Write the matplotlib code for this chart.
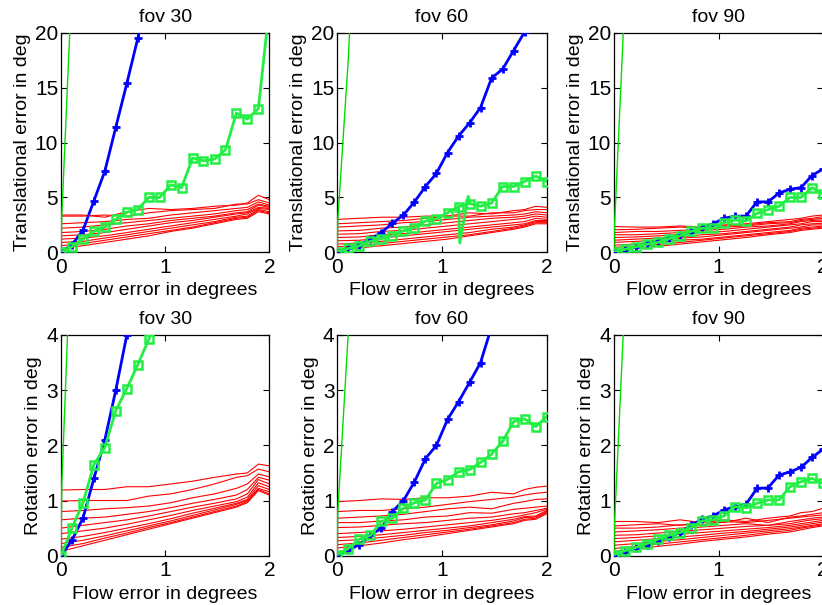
import matplotlib
matplotlib.use('Agg')
import matplotlib.pyplot as plt

plt.rcParams['font.family'] = ['Liberation Sans', 'DejaVu Sans']
plt.rcParams['font.size'] = 14

##############################################################################
# data

# flow error grid (degrees), thick curves
flow_x = [0.0, 0.105, 0.211, 0.316, 0.421, 0.526, 0.632, 0.737, 0.842, 0.947,
          1.053, 1.158, 1.263, 1.368, 1.474, 1.579, 1.684, 1.789, 1.895, 2.0]
# coarser grid for the thin red curves
red_x = [0.0, 0.211, 0.421, 0.632, 0.842, 1.053, 1.263, 1.474, 1.684, 1.789, 1.895, 2.0]

titles = ['fov 30', 'fov 60', 'fov 90']
ylabel_trans = 'Translational error in deg'
ylabel_rot = 'Rotation error in deg'
xlabel = 'Flow error in degrees'

# --- translational error ---
trans30_blue = [0, 0.7, 2.0, 4.7, 7.4, 11.4, 15.4, 19.5, 24.0]
trans30_green = [0, 0.5, 1.2, 1.9, 2.3, 3.0, 3.65, 3.9, 5.0, 5.0, 6.15, 5.9,
                 8.6, 8.35, 8.5, 9.35, 12.7, 12.15, 13.1, 22.3]
trans30_thin_x = [0, 0.008, 0.105]
trans30_thin_y = [0, 3.4, 24.6]
trans30_red = [
    [3.4, 3.4, 3.2, 3.7, 4.0, 3.9, 4.0, 4.2, 4.3, 4.5, 5.2, 4.8],
    [3.3, 3.3, 3.4, 3.3, 3.6, 3.8, 3.9, 4.0, 4.4, 4.4, 4.8, 4.5],
    [2.6, 2.7, 2.8, 3.0, 3.1, 3.4, 3.6, 3.8, 4.0, 4.1, 4.6, 4.3],
    [2.2, 2.3, 2.5, 2.7, 2.9, 3.1, 3.3, 3.5, 3.8, 3.9, 4.4, 4.2],
    [1.8, 1.9, 2.1, 2.4, 2.6, 2.9, 3.1, 3.3, 3.6, 3.7, 4.3, 4.1],
    [1.5, 1.6, 1.8, 2.1, 2.4, 2.7, 2.9, 3.2, 3.5, 3.6, 4.1, 4.0],
    [1.2, 1.3, 1.5, 1.8, 2.1, 2.4, 2.7, 3.0, 3.3, 3.5, 4.0, 3.9],
    [0.9, 1.0, 1.3, 1.6, 1.9, 2.2, 2.5, 2.8, 3.2, 3.3, 3.9, 3.7],
    [0.6, 0.8, 1.1, 1.4, 1.7, 2.0, 2.3, 2.7, 3.1, 3.2, 3.8, 3.6],
    [0.35, 0.6, 0.9, 1.2, 1.5, 1.9, 2.2, 2.6, 3.0, 3.1, 3.7, 3.5],
]

trans60_blue = [0, 0.35, 0.7, 1.2, 1.8, 2.65, 3.4, 4.6, 6.0, 7.2, 9.1, 10.6,
                11.8, 13.2, 15.9, 16.7, 18.4, 20.1, 22.5]
trans60_green = [0.05, 0.35, 0.6, 1.0, 1.25, 1.5, 1.95, 2.25, 2.85, 3.05, 3.6,
                 4.15, 4.45, 4.2, 4.5, 6.0, 6.0, 6.45, 6.95, 6.45]
trans60_spike_x = [1.158, 1.17, 1.25, 1.263]
trans60_spike_y = [4.15, 0.85, 5.1, 4.45]
trans60_thin_x = [0, 0.005, 0.105, 0.211]
trans60_thin_y = [0, 3.0, 17.6, 40.0]
trans60_red = [
    [3.0, 3.1, 3.2, 3.2, 3.3, 3.3, 3.6, 3.5, 3.8, 3.9, 4.2, 4.1],
    [2.6, 2.7, 2.8, 2.9, 3.1, 3.3, 3.3, 3.6, 3.6, 3.8, 3.9, 3.9],
    [2.3, 2.4, 2.5, 2.7, 2.8, 3.0, 3.2, 3.3, 3.4, 3.5, 3.7, 3.6],
    [1.95, 2.0, 2.2, 2.3, 2.5, 2.7, 2.9, 3.1, 3.2, 3.3, 3.5, 3.4],
    [1.65, 1.7, 1.9, 2.0, 2.2, 2.4, 2.6, 2.8, 3.0, 3.1, 3.3, 3.2],
    [1.35, 1.4, 1.6, 1.7, 1.9, 2.1, 2.3, 2.5, 2.7, 2.8, 3.1, 3.0],
    [1.05, 1.1, 1.3, 1.5, 1.7, 1.9, 2.1, 2.3, 2.5, 2.6, 2.9, 2.9],
    [0.75, 0.85, 1.0, 1.2, 1.4, 1.6, 1.8, 2.1, 2.3, 2.5, 2.8, 2.8],
    [0.5, 0.6, 0.8, 1.0, 1.2, 1.4, 1.6, 1.9, 2.2, 2.4, 2.7, 2.7],
    [0.25, 0.4, 0.6, 0.8, 1.0, 1.2, 1.5, 1.8, 2.1, 2.3, 2.6, 2.6],
]

trans90_blue = [0, 0.25, 0.5, 0.8, 1.0, 1.3, 1.55, 1.85, 2.25, 2.6, 3.1, 3.3,
                3.3, 4.6, 4.6, 5.4, 5.75, 5.9, 7.0, 7.6]
trans90_green = [0.05, 0.27, 0.5, 0.73, 0.9, 1.25, 1.5, 1.9, 2.2, 2.2, 2.7,
                 2.95, 2.85, 3.55, 3.9, 4.2, 5.0, 5.0, 5.9, 5.3]
trans90_thin_x = [0, 0.003, 0.105]
trans90_thin_y = [0, 2.0, 23.4]
trans90_red = [
    [2.35, 2.3, 2.3, 2.4, 2.3, 2.5, 2.6, 2.8, 3.0, 3.1, 3.3, 3.4],
    [2.05, 2.1, 2.2, 2.3, 2.2, 2.4, 2.5, 2.7, 2.8, 3.0, 3.1, 3.25],
    [1.8, 1.9, 1.9, 2.0, 2.1, 2.3, 2.4, 2.6, 2.7, 2.9, 3.0, 3.1],
    [1.6, 1.6, 1.7, 1.8, 2.0, 2.1, 2.3, 2.4, 2.6, 2.8, 2.9, 2.95],
    [1.35, 1.4, 1.5, 1.6, 1.8, 1.9, 2.1, 2.3, 2.5, 2.6, 2.8, 2.8],
    [1.1, 1.2, 1.3, 1.4, 1.6, 1.7, 1.9, 2.1, 2.3, 2.5, 2.6, 2.65],
    [0.9, 1.0, 1.1, 1.3, 1.4, 1.6, 1.8, 2.0, 2.2, 2.3, 2.5, 2.5],
    [0.65, 0.75, 0.9, 1.1, 1.2, 1.4, 1.6, 1.8, 2.0, 2.2, 2.3, 2.4],
    [0.45, 0.55, 0.7, 0.9, 1.1, 1.3, 1.5, 1.7, 1.9, 2.1, 2.2, 2.3],
    [0.25, 0.35, 0.55, 0.75, 0.95, 1.15, 1.35, 1.6, 1.8, 2.0, 2.1, 2.2],
]

# --- rotation error ---
rot30_blue = [0, 0.28, 0.68, 1.4, 2.1, 3.0, 4.0, 4.9]
rot30_green = [0, 0.5, 0.96, 1.65, 1.96, 2.63, 3.03, 3.46, 3.92, 4.4]
rot30_thin_x = [0, 0.008, 0.105]
rot30_thin_y = [0, 1.3, 6.1]
rot30_red = [
    [1.19, 1.2, 1.2, 1.25, 1.25, 1.3, 1.35, 1.42, 1.48, 1.5, 1.66, 1.63],
    [0.99, 1.0, 1.0, 1.0, 1.08, 1.12, 1.2, 1.3, 1.42, 1.45, 1.57, 1.52],
    [0.8, 0.82, 0.85, 0.87, 0.9, 0.96, 1.05, 1.12, 1.22, 1.3, 1.48, 1.43],
    [0.65, 0.68, 0.7, 0.75, 0.8, 0.87, 0.95, 1.02, 1.1, 1.2, 1.42, 1.37],
    [0.5, 0.55, 0.6, 0.65, 0.72, 0.8, 0.88, 0.95, 1.03, 1.12, 1.38, 1.3],
    [0.4, 0.45, 0.5, 0.57, 0.65, 0.73, 0.82, 0.9, 0.98, 1.06, 1.32, 1.25],
    [0.3, 0.35, 0.42, 0.5, 0.58, 0.67, 0.77, 0.86, 0.95, 1.02, 1.27, 1.2],
    [0.22, 0.28, 0.36, 0.45, 0.54, 0.63, 0.73, 0.83, 0.93, 1.0, 1.22, 1.16],
    [0.15, 0.22, 0.32, 0.41, 0.51, 0.6, 0.7, 0.8, 0.9, 0.98, 1.2, 1.12],
    [0.08, 0.18, 0.28, 0.38, 0.48, 0.58, 0.68, 0.78, 0.88, 0.96, 1.18, 1.1],
]

rot60_blue = [0, 0.1, 0.2, 0.37, 0.5, 0.8, 1.0, 1.34, 1.76, 2.0, 2.47, 2.79,
              3.14, 3.5, 4.15]
rot60_green = [0.02, 0.13, 0.3, 0.37, 0.62, 0.68, 0.86, 0.96, 1.01, 1.31, 1.38,
               1.52, 1.56, 1.69, 1.84, 2.07, 2.43, 2.48, 2.34, 2.52]
rot60_thin_x = [0, 0.005, 0.105, 0.211]
rot60_thin_y = [0, 0.8, 4.05, 8.0]
rot60_red = [
    [0.98, 1.0, 1.03, 1.02, 1.05, 1.05, 1.08, 1.15, 1.12, 1.2, 1.24, 1.26],
    [0.8, 0.82, 0.82, 0.85, 0.88, 0.93, 0.98, 1.02, 1.06, 1.1, 1.13, 1.15],
    [0.68, 0.7, 0.72, 0.75, 0.8, 0.85, 0.88, 0.85, 0.95, 0.98, 1.02, 1.03],
    [0.6, 0.6, 0.63, 0.65, 0.7, 0.72, 0.78, 0.77, 0.84, 0.86, 0.88, 0.9],
    [0.51, 0.52, 0.55, 0.58, 0.6, 0.64, 0.68, 0.7, 0.76, 0.78, 0.82, 0.86],
    [0.4, 0.42, 0.45, 0.48, 0.52, 0.56, 0.6, 0.64, 0.7, 0.74, 0.78, 0.84],
    [0.33, 0.35, 0.38, 0.42, 0.46, 0.5, 0.54, 0.6, 0.66, 0.71, 0.72, 0.82],
    [0.27, 0.29, 0.33, 0.37, 0.42, 0.46, 0.51, 0.56, 0.63, 0.69, 0.7, 0.8],
    [0.2, 0.23, 0.28, 0.33, 0.38, 0.43, 0.48, 0.54, 0.6, 0.66, 0.68, 0.78],
    [0.14, 0.18, 0.23, 0.29, 0.34, 0.4, 0.46, 0.52, 0.58, 0.64, 0.66, 0.76],
]

rot90_blue = [0, 0.07, 0.14, 0.2, 0.27, 0.33, 0.42, 0.55, 0.66, 0.72, 0.83,
              0.89, 0.93, 1.22, 1.23, 1.46, 1.52, 1.6, 1.78, 1.93]
rot90_green = [0.02, 0.09, 0.15, 0.22, 0.3, 0.37, 0.42, 0.51, 0.63, 0.65, 0.72,
               0.89, 0.87, 0.95, 1.01, 1.01, 1.25, 1.34, 1.4, 1.31]
rot90_thin_x = [0, 0.003, 0.105]
rot90_thin_y = [0, 0.5, 4.7]
rot90_red = [
    [0.62, 0.62, 0.6, 0.65, 0.6, 0.65, 0.62, 0.68, 0.72, 0.78, 0.8, 0.86],
    [0.54, 0.56, 0.58, 0.55, 0.62, 0.6, 0.68, 0.6, 0.7, 0.72, 0.75, 0.78],
    [0.5, 0.5, 0.52, 0.56, 0.56, 0.62, 0.6, 0.64, 0.68, 0.7, 0.72, 0.74],
    [0.43, 0.45, 0.47, 0.5, 0.52, 0.55, 0.58, 0.55, 0.62, 0.65, 0.68, 0.7],
    [0.37, 0.38, 0.41, 0.44, 0.47, 0.5, 0.53, 0.55, 0.58, 0.62, 0.65, 0.67],
    [0.31, 0.33, 0.36, 0.39, 0.42, 0.45, 0.48, 0.51, 0.55, 0.58, 0.61, 0.64],
    [0.25, 0.28, 0.31, 0.34, 0.37, 0.41, 0.44, 0.48, 0.52, 0.55, 0.58, 0.61],
    [0.19, 0.22, 0.26, 0.29, 0.33, 0.37, 0.41, 0.45, 0.49, 0.52, 0.55, 0.58],
    [0.13, 0.17, 0.21, 0.25, 0.29, 0.33, 0.37, 0.42, 0.46, 0.5, 0.53, 0.56],
    [0.08, 0.12, 0.17, 0.21, 0.26, 0.3, 0.34, 0.39, 0.43, 0.47, 0.51, 0.54],
]

##############################################################################
# plotting

BLUE = '#0000ff'
GREEN = '#22ee44'
THIN_GREEN = '#00dd00'
RED = '#ff0000'


def draw_panel(ax, red, thin_x, thin_y, blue, green, title, ylabel, ymax, yticks,
               spike=None):
    for row in red:
        ax.plot(red_x, row, color=RED, lw=0.8, zorder=2)
    ax.plot(thin_x, thin_y, color=THIN_GREEN, lw=1.0, zorder=3)
    ax.plot(flow_x[:len(blue)], blue, color=BLUE, lw=2.0, marker='+',
            ms=6, mew=2.0, zorder=4)
    if spike is not None:
        ax.plot(spike[0], spike[1], color=GREEN, lw=2.0, zorder=5)
    ax.plot(flow_x[:len(green)], green, color=GREEN, lw=2.0, marker='s',
            ms=6, mew=1.8, mfc='none', zorder=5)

    ax.set_xlim(0, 2)
    ax.set_ylim(0, ymax)
    ax.set_xticks([0, 1, 2])
    ax.set_yticks(yticks)
    ax.tick_params(direction='in', top=True, right=True, length=4, width=0.8,
                   labelsize=15)
    ax.tick_params(axis='y', pad=2)
    ax.tick_params(axis='x', pad=4)
    for sp in ax.spines.values():
        sp.set_linewidth(0.9)
    ax.set_title(title, fontsize=14, pad=8)
    ax.set_xlabel(xlabel, fontsize=14, labelpad=4)
    ax.set_ylabel(ylabel, fontsize=14, labelpad=3)


fig = plt.figure(figsize=(8.22, 6.05), dpi=100, facecolor='white')

# axes boxes in figure fractions (third column is cut by the figure edge)
lefts = [61 / 822, 337.3 / 822, 614 / 822]
widths = [208.3 / 822, 209.4 / 822, 209 / 822]
row_bottom = [1 - 252.3 / 605, 1 - 555.7 / 605]
row_height = [219.3 / 605, 220.7 / 605]

top_panels = [
    (trans30_red, trans30_thin_x, trans30_thin_y, trans30_blue, trans30_green, None),
    (trans60_red, trans60_thin_x, trans60_thin_y, trans60_blue, trans60_green,
     (trans60_spike_x, trans60_spike_y)),
    (trans90_red, trans90_thin_x, trans90_thin_y, trans90_blue, trans90_green, None),
]
bottom_panels = [
    (rot30_red, rot30_thin_x, rot30_thin_y, rot30_blue, rot30_green, None),
    (rot60_red, rot60_thin_x, rot60_thin_y, rot60_blue, rot60_green, None),
    (rot90_red, rot90_thin_x, rot90_thin_y, rot90_blue, rot90_green, None),
]

for i in range(3):
    ax = fig.add_axes([lefts[i], row_bottom[0], widths[i], row_height[0]])
    red, tx, ty, b, g, sp = top_panels[i]
    draw_panel(ax, red, tx, ty, b, g, titles[i], ylabel_trans, 20,
               [0, 5, 10, 15, 20], spike=sp)

    ax = fig.add_axes([lefts[i], row_bottom[1], widths[i], row_height[1]])
    red, tx, ty, b, g, sp = bottom_panels[i]
    draw_panel(ax, red, tx, ty, b, g, titles[i], ylabel_rot, 4,
               [0, 1, 2, 3, 4], spike=sp)

fig.savefig('out.png', dpi=100, facecolor='white')
